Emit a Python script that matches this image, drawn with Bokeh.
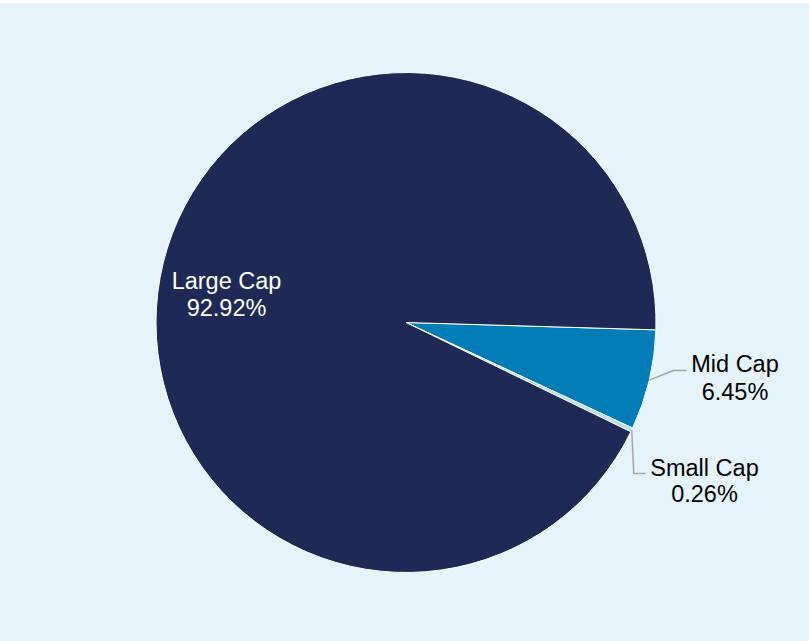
import math
from bokeh.plotting import figure
from bokeh.models import Range1d, ColumnDataSource
from bokeh.core.properties import value
from bokeh.embed import file_html
from bokeh.resources import INLINE

# ---- data ----
categories = ["Mid Cap", "Small Cap", "Large Cap"]
shares = [6.45, 0.26, 92.92]
labels_pct = ["6.45%", "0.26%", "92.92%"]

# ---- style / layout ----
slice_colors = ["#007cb7", "#b3def2", "#1e2a55"]
label_colors = ["#000000", "#000000", "#ffffff"]
BG = "#e5f4fa"
W, H = 809, 638
TOP = 3
CX, CY_PX, R = 405.5, 322.0, 250.0
START_DEG = -1.68  # edge between Large Cap and Mid Cap
TEXT_SHIFT = -8


def ydat(y_px):
    return H - (y_px - TOP)


p = figure(width=W, height=H, x_range=Range1d(0, W), y_range=Range1d(0, H),
           output_backend="svg", toolbar_location=None, min_border=0,
           background_fill_color=BG, border_fill_color=BG)
p.axis.visible = False
p.grid.visible = False
p.outline_line_color = None

total = sum(shares)
starts, ends, mids = [], [], []
a = math.radians(START_DEG)
for v in shares:
    sweep = v / total * 2 * math.pi
    starts.append(a - sweep)
    ends.append(a)
    mids.append(a - sweep / 2)
    a -= sweep

src = ColumnDataSource(dict(x=[CX] * 3, y=[ydat(CY_PX)] * 3, s=starts, e=ends,
                            c=slice_colors, name=categories))
p.wedge(x="x", y="y", radius=R, start_angle="s", end_angle="e",
        fill_color="c", line_color="#ffffff", line_width=1, source=src)

# leader lines (label anchor positions in pixels)
anchors = {
    "Mid Cap": [(673, 370), (686, 370)],
    "Small Cap": [(633.3, 473), (645, 473)],
}
for i, cat in enumerate(categories):
    if cat not in anchors:
        continue
    ex = CX + R * math.cos(mids[i])
    ey = ydat(CY_PX) + R * math.sin(mids[i])
    xs = [ex] + [pt[0] for pt in anchors[cat]]
    ys = [ey] + [ydat(pt[1]) for pt in anchors[cat]]
    p.line(xs, ys, line_color="#a6a6a6", line_width=1.5)

# labels: center x, baseline of line 1, baseline of line 2 (pixels)
label_pos = {
    "Mid Cap": (734.5, 371, 399),
    "Small Cap": (704, 475, 501.7),
    "Large Cap": (226, 288.3, 315),
}
for i, cat in enumerate(categories):
    lx, b1, b2 = label_pos[cat]
    p.text(x=[lx, lx], y=[ydat(b1 + TEXT_SHIFT), ydat(b2 + TEXT_SHIFT)],
           text=[cat, labels_pct[i]],
           text_font=value("Liberation Sans"), text_font_size="23.5px",
           text_align="center", text_baseline="alphabetic",
           text_color=label_colors[i])

html = file_html(p, INLINE)
style = ("<style>html{background:#ffffff;}"
         "body{margin:%dpx 0 0 0;padding:0;background:%s;}</style>" % (TOP, BG))
html = html.replace("</head>", style + "</head>", 1)
open("out.html", "w").write(html)
